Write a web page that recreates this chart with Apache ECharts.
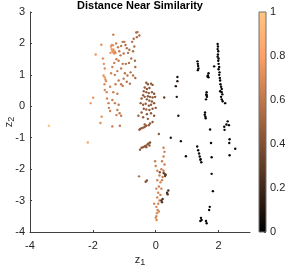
<!DOCTYPE html>
<html><head><meta charset="utf-8">
<script src="https://cdn.jsdelivr.net/npm/echarts@6/dist/echarts.min.js"></script>
<style>html,body{margin:0;padding:0;background:#fff}#c{width:287px;height:268px}</style>
</head><body><div id="c"></div>
<script>
// [z1, z2, similarity]
const leftCluster = [
[-3.40,-0.62,0.97],[-2.16,-1.15,0.82],[-2.07,0.10,0.78],[-1.99,0.27,0.74],[-1.91,1.65,0.74],
[-1.73,1.96,0.72],[-1.76,-0.53,0.70],[-1.72,-0.33,0.70],[-1.68,1.52,0.72],[-1.65,1.35,0.70],
[-1.62,1.20,0.70],[-1.66,0.98,0.72],[-1.62,0.92,0.74],[-1.60,0.85,0.73],[-1.58,0.80,0.72],
[-1.63,0.70,0.70],[-1.62,0.52,0.68],[-1.56,0.45,0.66],[-1.55,0.25,0.66],[-1.50,0.10,0.64],
[-1.49,-0.05,0.64],[-1.45,0.62,0.66],[-1.38,-0.64,0.62],[-1.14,-0.62,0.60],[-1.42,1.90,0.74],
[-1.40,1.82,0.76],[-1.38,1.76,0.76],[-1.36,1.72,0.74],[-1.34,1.80,0.74],[-1.32,1.68,0.72],
[-1.30,1.74,0.72],[-1.28,1.70,0.70],[-1.40,1.95,0.72],[-1.36,1.94,0.72],[-1.44,1.70,0.74],
[-1.35,2.28,0.62],[-1.26,2.00,0.64],[-1.20,1.88,0.62],[-1.16,1.75,0.60],[-1.10,1.92,0.60],
[-1.05,2.05,0.58],[-1.00,2.05,0.58],[-0.96,1.95,0.56],[-0.92,1.85,0.56],[-0.88,1.70,0.56],
[-0.84,1.80,0.56],[-1.02,1.68,0.58],[-1.12,1.62,0.60],[-1.18,1.45,0.60],[-1.25,1.50,0.62],
[-1.32,1.38,0.64],[-1.05,1.35,0.58],[-0.95,1.35,0.56],[-0.85,1.38,0.56],[-0.78,1.52,0.56],
[-0.72,1.75,0.54],[-0.68,1.90,0.54],[-0.75,2.05,0.56],[-0.70,2.15,0.54],[-0.62,2.35,0.54],
[-0.58,2.36,0.54],[-0.52,2.25,0.54],[-0.60,2.20,0.54],[-0.66,1.45,0.54],[-0.65,1.25,0.54],
[-1.38,1.25,0.64],[-1.42,1.05,0.66],[-1.30,1.00,0.62],[-1.22,1.12,0.62],[-1.10,1.20,0.60],
[-0.98,1.05,0.58],[-0.90,0.98,0.58],[-0.80,1.08,0.56],[-0.72,0.98,0.56],[-0.65,0.90,0.54],
[-1.02,0.88,0.58],[-1.10,0.70,0.60],[-1.18,0.82,0.60],[-1.05,0.65,0.58],[-1.28,0.70,0.62],
[-1.35,0.45,0.62],[-1.22,0.40,0.62],[-1.38,0.20,0.62],[-1.30,0.10,0.62],[-1.18,0.05,0.60],
[-1.22,-0.12,0.60],[-1.15,-0.22,0.60],[-1.25,-0.28,0.62],[-1.10,-0.30,0.60],[-1.45,-0.15,0.64],
[-0.92,0.78,0.58],[-0.82,0.72,0.56]
];
const midCluster = [
[-0.30,0.75,0.44],[-0.25,0.70,0.44],[-0.15,0.72,0.44],[-0.10,0.68,0.44],[-0.35,0.60,0.46],
[-0.28,0.55,0.44],[-0.20,0.58,0.44],[-0.38,0.48,0.46],[-0.30,0.45,0.46],[-0.22,0.42,0.44],
[-0.12,0.45,0.44],[-0.05,0.40,0.42],[-0.40,0.35,0.46],[-0.45,0.25,0.46],[-0.35,0.30,0.46],
[-0.25,0.32,0.44],[-0.18,0.30,0.44],[-0.10,0.28,0.44],[-0.02,0.30,0.42],[-0.28,0.22,0.44],
[-0.20,0.18,0.44],[-0.12,0.15,0.44],[-0.48,0.10,0.46],[-0.40,0.05,0.46],[-0.32,0.08,0.46],
[-0.22,0.02,0.44],[-0.15,0.05,0.44],[-0.05,0.10,0.42],[-0.38,-0.08,0.46],[-0.30,-0.10,0.46],
[-0.20,-0.12,0.44],[-0.10,-0.08,0.44],[0.00,-0.05,0.42],[-0.45,-0.20,0.46],[-0.28,-0.25,0.44],
[-0.15,-0.22,0.44],[-0.05,-0.30,0.42],[-0.55,-0.30,0.48],[-0.40,-0.35,0.46],[-0.25,-0.40,0.44],
[-0.10,-0.50,0.44],[-0.35,-0.58,0.46],[-0.18,-0.55,0.44],
[-0.50,-0.72,0.46],[-0.45,-0.70,0.46],[-0.40,-0.68,0.46],[-0.35,-0.66,0.46],[-0.30,-0.62,0.44],
[-0.22,-0.60,0.44],[-0.52,-0.75,0.46],
[-0.50,-1.38,0.44],[-0.45,-1.32,0.44],[-0.40,-1.30,0.44],[-0.35,-1.27,0.44],[-0.30,-1.25,0.44],
[-0.25,-1.20,0.44],[-0.22,-1.18,0.44],[-0.18,-1.15,0.42],[-0.20,-1.25,0.44],[-0.30,-1.30,0.44],
[-0.53,-2.23,0.58],[-0.32,-2.40,0.40],[-0.28,-2.36,0.40],[0.10,-0.88,0.44],[0.27,0.28,0.30]
];
const lowerColumn = [
[0.25,-1.32,0.62],[0.28,-1.45,0.62],[0.25,-1.60,0.64],[0.20,-1.75,0.62],[0.28,-1.85,0.62],
[-0.02,-1.75,0.62],[0.00,-1.90,0.64],[0.05,-2.05,0.64],[0.18,-2.00,0.62],[0.25,-2.05,0.62],
[0.12,-2.20,0.64],[0.22,-2.25,0.62],[0.05,-2.35,0.64],[0.15,-2.42,0.64],[0.10,-2.55,0.64],
[0.02,-2.62,0.66],[0.08,-2.75,0.66],[0.15,-2.82,0.64],[0.05,-2.90,0.66],[0.12,-3.00,0.66],
[0.08,-3.10,0.66],[0.02,-3.20,0.66],[0.06,-3.30,0.66],[0.04,-3.40,0.68],[0.02,-3.50,0.68],
[0.03,-3.62,0.68],[0.00,-3.55,0.68],[0.10,-3.35,0.66],[-0.05,-3.10,0.66],[0.18,-2.62,0.64],
[0.20,-2.35,0.62],
[0.25,-2.12,0.32],[0.28,-2.15,0.32],[0.32,-2.18,0.30],[0.30,-2.22,0.30],[0.36,-2.75,0.22],
[0.40,-2.68,0.22],[0.38,-2.80,0.22],[0.18,-3.00,0.25],[0.20,-3.05,0.25],[0.22,-2.95,0.25],
[0.13,-2.10,0.40]
];
const rightPoints = [
[0.48,-1.00,0.12],[0.80,-1.11,0.08],[0.96,-1.59,0.05],[0.64,0.64,0.10],[0.69,0.80,0.10],
[0.69,0.93,0.10],[0.67,0.30,0.10],[0.72,-0.30,0.10],
[1.33,1.43,0.04],[1.34,1.35,0.04],[1.35,1.28,0.04],[1.36,1.20,0.04],[1.34,1.15,0.04],
[1.32,-1.28,0.04],[1.35,-1.40,0.04],[1.38,-1.50,0.04],[1.40,-1.60,0.04],[1.43,-1.68,0.04],
[1.45,-1.78,0.04],[1.42,-1.70,0.04],
[1.68,1.05,0.03],[1.66,0.98,0.03],[1.68,0.92,0.03],[1.65,0.95,0.03],
[1.62,0.45,0.03],[1.61,0.38,0.03],[1.63,0.30,0.03],[1.60,0.22,0.03],[1.62,0.35,0.03],
[1.57,-0.20,0.03],[1.56,-0.27,0.03],[1.58,-0.33,0.03],[1.59,-0.38,0.03],
[1.73,-0.74,0.03],[1.76,-1.17,0.03],[1.78,-1.62,0.03],[1.78,-2.15,0.03],[1.82,-2.70,0.03],
[1.72,-3.20,0.03],[1.70,-3.30,0.03],
[1.44,-3.55,0.03],[1.46,-3.62,0.03],[1.42,-3.65,0.03],[1.60,-3.65,0.03],[1.62,-3.72,0.03],
[1.97,1.98,0.02],[1.98,1.90,0.02],[1.97,1.82,0.02],[1.99,1.75,0.02],[1.98,1.65,0.02],
[1.97,1.58,0.02],[2.00,1.52,0.02],[1.99,1.45,0.02],[2.00,1.35,0.02],[2.02,1.25,0.02],
[2.00,1.18,0.02],[2.03,1.08,0.02],[2.02,1.00,0.02],[2.04,0.90,0.02],[2.05,0.82,0.02],
[2.06,0.70,0.02],[2.08,0.62,0.02],[2.10,0.55,0.02],[2.05,0.48,0.02],[2.10,0.45,0.02],
[2.12,0.38,0.02],[2.08,0.30,0.02],[2.10,0.22,0.02],[2.13,0.16,0.02],[2.21,0.10,0.02],
[1.86,1.27,0.02],
[2.18,-0.65,0.02],[2.19,-0.75,0.02],[2.29,-0.48,0.02],[2.33,-0.60,0.02],[2.35,-1.05,0.02],
[2.34,-1.17,0.02],[2.35,-1.56,0.02],[2.53,-1.35,0.02],[2.25,-0.58,0.02]
];
const xTicks = [-4, -2, 0, 2];
const yTicks = [-4, -3, -2, -1, 0, 1, 2, 3];
const cbTicks = [0, 0.2, 0.4, 0.6, 0.8, 1];
// copper colormap stops at 0,0.2,...,1
const copper = ['#000000','#402819','#805033','#bf784c','#ff9f65','#ffc77f'];

const allPoints = leftCluster.concat(midCluster, lowerColumn, rightPoints);
const axisColor = '#404040';
const textColor = '#262626';
const font = 'Liberation Sans';
const cbSteps = 110;

const cbSeries = Array.from({length: cbSteps}, (_, i) => ({
  type: 'bar', xAxisIndex: 1, yAxisIndex: 1, barWidth: '100%', stack: 'cb', silent: true,
  encode: {x: 0, y: 1},
  data: [[0, 1 / cbSteps, (i + 0.5) / cbSteps]], itemStyle: {borderWidth: 0}
}));

const chart = echarts.init(document.getElementById('c'), null, {renderer: 'canvas'});
chart.setOption({
  animation: false,
  backgroundColor: '#fff',
  title: {
    text: 'Distance Near Similarity', left: 140, top: 0, textAlign: 'center', padding: 0,
    textStyle: {fontFamily: font, fontWeight: 'bold', fontSize: 11, color: '#000'}
  },
  grid: [
    {left: 30, right: 37, top: 12, bottom: 36, outerBoundsMode: 'none', containLabel: false},
    {left: 259, width: 7, top: 12, height: 220, show: true, borderColor: '#707070', borderWidth: 1,
     backgroundColor: 'transparent', outerBoundsMode: 'none', containLabel: false, z: 5}
  ],
  xAxis: [
    {type: 'value', gridIndex: 0, min: -4, max: 3, interval: 2,
     splitLine: {show: false},
     axisLine: {show: true, onZero: false, lineStyle: {color: axisColor, width: 1}},
     axisTick: {show: true, inside: true, length: 2, lineStyle: {color: axisColor}},
     axisLabel: {fontFamily: font, fontSize: 11, color: textColor, margin: 8, showMaxLabel: false,
       formatter: v => xTicks.includes(v) ? String(v) : ''},
     name: '{a|z}{b|1}', nameLocation: 'middle', nameGap: 20, nameMoveOverlap: false,
     nameTextStyle: {rich: {a: {fontFamily: font, fontSize: 11, color: textColor},
       b: {fontFamily: font, fontSize: 9, color: textColor, verticalAlign: 'bottom', padding: [6,0,0,0]}}}},
    {type: 'category', gridIndex: 1, data: [''], show: false, boundaryGap: true}
  ],
  yAxis: [
    {type: 'value', gridIndex: 0, min: -4, max: 3, interval: 1,
     splitLine: {show: false},
     axisLine: {show: true, onZero: false, lineStyle: {color: axisColor, width: 1}},
     axisTick: {show: true, inside: true, length: 2, lineStyle: {color: axisColor}},
     axisLabel: {fontFamily: font, fontSize: 11, color: textColor, margin: 5,
       formatter: v => yTicks.includes(v) ? String(v) : ''},
     name: '{a|z}{b|2}', nameLocation: 'middle', nameGap: 14, nameRotate: 90, nameMoveOverlap: false,
     nameTextStyle: {rich: {a: {fontFamily: font, fontSize: 11, color: textColor},
       b: {fontFamily: font, fontSize: 9, color: textColor, verticalAlign: 'bottom', padding: [6,0,0,0]}}}},
    {type: 'value', gridIndex: 1, min: 0, max: 1, interval: 0.2, position: 'right',
     splitLine: {show: false},
     axisLine: {show: false},
     axisTick: {show: true, inside: true, length: 2, lineStyle: {color: axisColor}},
     axisLabel: {fontFamily: font, fontSize: 11, color: textColor, margin: 4,
       formatter: v => cbTicks.some(t => Math.abs(t - v) < 1e-9) ? String(Math.round(v * 10) / 10) : ''}}
  ],
  visualMap: [
    {type: 'continuous', seriesIndex: 0, dimension: 2, min: 0, max: 1, show: false,
     inRange: {color: copper}},
    {type: 'continuous', seriesIndex: cbSeries.map((_, i) => i + 1), dimension: 2, min: 0, max: 1, show: false,
     inRange: {color: copper}}
  ],
  series: [
    {type: 'scatter', xAxisIndex: 0, yAxisIndex: 0, data: allPoints, symbol: 'circle', symbolSize: 2.4,
     itemStyle: {opacity: 1}}
  ].concat(cbSeries)
});
</script></body></html>
